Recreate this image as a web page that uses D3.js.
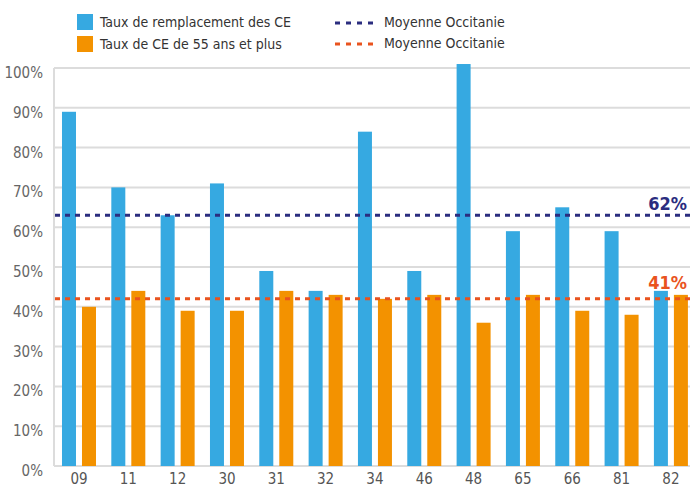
<!DOCTYPE html>
<meta charset="utf-8">
<script src="https://d3js.org/d3.v7.min.js"></script>
<style>
  body { margin: 0; background: #fff; }
  text { font-family: "DejaVu Sans Condensed", "Liberation Sans Narrow", Roboto, sans-serif; }
</style>
<div id="chart"></div>
<script>

// data
var departements = ["09","11","12","30","31","32","34","46","48","65","66","81","82"];
var tauxRemplacement = [89, 70, 63, 71, 49, 44, 84, 49, 101, 59, 65, 59, 44];
var tauxCE55 = [40, 44, 39, 39, 44, 43, 42, 43, 36, 43, 39, 38, 43];
var yTicks = [0, 10, 20, 30, 40, 50, 60, 70, 80, 90, 100];
var moyennes = [63, 42];               // level of the dashed lines
var moyenneLabels = ["62%", "41%"];
var seriesNames = ["Taux de remplacement des CE", "Taux de CE de 55 ans et plus"];
var moyenneNames = ["Moyenne Occitanie", "Moyenne Occitanie"];

var barColors = ["#36a9e1", "#f39200"];
var lineColors = ["#2b2d7f", "#e9531e"];
var labelLift = [5, 10];

var W = 690, H = 488;
var plotLeft = 54, plotBottom = 466, plotTop = 68;

var svg = d3.select("#chart").append("svg")
    .attr("width", W)
    .attr("height", H);

var y = d3.scaleLinear().domain([0, 100]).range([plotBottom, plotTop]);

var x = d3.scaleBand()
    .domain(departements)
    .range([plotLeft, 695.9])
    .paddingInner(0.3108)
    .paddingOuter(0.162);

var x1 = d3.scaleBand()
    .domain([0, 1])
    .range([0, x.bandwidth()])
    .paddingInner(0.3);

// grid lines
svg.append("g").selectAll("line")
  .data(yTicks)
  .enter().append("line")
    .attr("x1", plotLeft)
    .attr("x2", W)
    .attr("y1", function(d) { return y(d); })
    .attr("y2", function(d) { return y(d); })
    .attr("stroke", "#dcdcdc")
    .attr("stroke-width", 2);

// y axis line
svg.append("line")
    .attr("x1", plotLeft).attr("x2", plotLeft)
    .attr("y1", y(100)).attr("y2", y(0))
    .attr("stroke", "#dcdcdc")
    .attr("stroke-width", 2);

// y tick labels
svg.append("g").selectAll("text")
  .data(yTicks)
  .enter().append("text")
    .attr("x", 43)
    .attr("y", function(d) { return y(d) + 10; })
    .attr("text-anchor", "end")
    .attr("fill", "#666")
    .style("font-size", "15px")
    .text(function(d) { return d + "%"; });

// x labels
svg.append("g").selectAll("text")
  .data(departements)
  .enter().append("text")
    .attr("x", function(d) { return x(d) + x.bandwidth() / 2; })
    .attr("y", 484)
    .attr("text-anchor", "middle")
    .attr("fill", "#555")
    .style("font-size", "15px")
    .text(function(d) { return d; });

// bars
var rows = departements.map(function(d, i) {
  return { dep: d, values: [tauxRemplacement[i], tauxCE55[i]] };
});

svg.append("g").selectAll("g")
  .data(rows)
  .enter().append("g")
    .attr("transform", function(d) { return "translate(" + x(d.dep) + ",0)"; })
  .selectAll("rect")
  .data(function(d) { return d.values; })
  .enter().append("rect")
    .attr("x", function(d, i) { return x1(i); })
    .attr("width", x1.bandwidth())
    .attr("y", function(d) { return y(d); })
    .attr("height", function(d) { return y(0) - y(d); })
    .attr("fill", function(d, i) { return barColors[i]; });

// average lines
svg.append("g").selectAll("line")
  .data(moyennes)
  .enter().append("line")
    .attr("x1", plotLeft + 1)
    .attr("x2", W)
    .attr("y1", function(d) { return y(d); })
    .attr("y2", function(d) { return y(d); })
    .attr("stroke", function(d, i) { return lineColors[i]; })
    .attr("stroke-width", 3)
    .attr("stroke-dasharray", "5,5");

// average labels, pulled in a little so they stay inside the picture
svg.append("g").selectAll("text")
  .data(moyennes)
  .enter().append("text")
    .attr("x", 687)
    .attr("y", function(d, i) { return y(d) - labelLift[i]; })
    .attr("text-anchor", "end")
    .attr("fill", function(d, i) { return lineColors[i]; })
    .style("font-size", "18px")
    .style("font-weight", "bold")
    .text(function(d, i) { return moyenneLabels[i]; });

// legend
var legend = svg.append("g");
seriesNames.forEach(function(name, i) {
  legend.append("rect")
    .attr("x", 77).attr("y", 14 + i * 22)
    .attr("width", 16).attr("height", 16)
    .attr("fill", barColors[i]);
  legend.append("text")
    .attr("x", 100).attr("y", 27 + i * 22)
    .attr("fill", "#333")
    .style("font-size", "14px")
    .text(name);
});
moyenneNames.forEach(function(name, i) {
  legend.append("line")
    .attr("x1", 335).attr("x2", 378)
    .attr("y1", 23 + i * 21).attr("y2", 23 + i * 21)
    .attr("stroke", lineColors[i])
    .attr("stroke-width", 3)
    .attr("stroke-dasharray", "5,6");
  legend.append("text")
    .attr("x", 384).attr("y", 27 + i * 21)
    .attr("fill", "#333")
    .style("font-size", "14px")
    .text(name);
});

</script>
